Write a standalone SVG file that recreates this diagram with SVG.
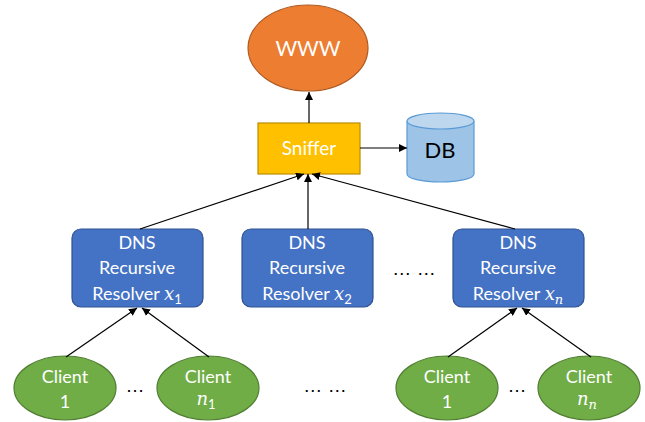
<svg xmlns="http://www.w3.org/2000/svg" width="645" height="422" viewBox="0 0 645 422">
<defs>
<marker id="ah" viewBox="0 0 10 10" refX="10" refY="5" markerWidth="8" markerHeight="8" markerUnits="userSpaceOnUse" orient="auto">
<path d="M0,0 L10,5 L0,10 z" fill="#000"/>
</marker>
</defs>
<style>
text{font-family:Lato,"Open Sans","Liberation Sans",sans-serif;text-anchor:middle}
.w{fill:#fff;font-size:18px}
.m{font-family:"DejaVu Serif","Liberation Serif",serif;font-style:italic}
.s{font-size:13px}
.res{fill:#4472C4;stroke:#2F528F;stroke-width:1.2}
.cli{fill:#70AD47;stroke:#507E32;stroke-width:1.2}
.con line{stroke:#000;stroke-width:1.2;marker-end:url(#ah)}
.dots{fill:#000;font-family:"Liberation Sans",sans-serif;font-size:19px}
</style>
<rect width="645" height="422" fill="#fff"/>
<g id="www">
<ellipse cx="308" cy="48" rx="60" ry="43" fill="#ED7D31" stroke="#AE5A21" stroke-width="1.2"/>
<text x="308" y="56" class="w" style="font-size:21px">WWW</text>
</g>
<g id="sniffer">
<rect x="258" y="123" width="102" height="51" fill="#FFC000" stroke="#BC8C00" stroke-width="1.2"/>
<text x="309" y="155" class="w" style="font-size:19px">Sniffer</text>
</g>
<g id="db">
<path d="M407,121 L407,174 A33.5,8 0 0 0 474,174 L474,121" fill="#9DC3E6" stroke="#5B9BD5" stroke-width="1.2"/>
<ellipse cx="440.5" cy="121" rx="33.5" ry="8" fill="#BDD7EE" stroke="#5B9BD5" stroke-width="1.2"/>
<text x="440" y="158" style="font-size:22px;fill:#000">DB</text>
</g>
<g id="resolver1">
<rect x="72" y="229" width="131" height="78" rx="9" class="res"/>
<text x="137" y="249" class="w">DNS</text>
<text x="137" y="274" class="w">Recursive</text>
<text x="137" y="300" class="w">Resolver <tspan class="m">x</tspan><tspan class="s" dy="4">1</tspan></text>
</g>
<g id="resolver2">
<rect x="242" y="229" width="131" height="78" rx="9" class="res"/>
<text x="307" y="249" class="w">DNS</text>
<text x="307" y="274" class="w">Recursive</text>
<text x="307" y="300" class="w">Resolver <tspan class="m">x</tspan><tspan class="s" dy="4">2</tspan></text>
</g>
<g id="resolvern">
<rect x="453" y="229" width="131" height="78" rx="9" class="res"/>
<text x="518" y="249" class="w">DNS</text>
<text x="518" y="274" class="w">Recursive</text>
<text x="518" y="300" class="w">Resolver <tspan class="m">x</tspan><tspan class="s m" dy="4">n</tspan></text>
</g>
<g id="client1a">
<ellipse cx="65" cy="388" rx="51" ry="32" class="cli"/>
<text x="65" y="383" class="w">Client</text>
<text x="65" y="408" class="w">1</text>
</g>
<g id="client1n">
<ellipse cx="208" cy="388" rx="51" ry="32" class="cli"/>
<text x="208" y="383" class="w">Client</text>
<text x="206" y="405" class="w"><tspan class="m">n</tspan><tspan class="s" dy="4">1</tspan></text>
</g>
<g id="clientna">
<ellipse cx="447" cy="388" rx="51" ry="32" class="cli"/>
<text x="447" y="383" class="w">Client</text>
<text x="447" y="408" class="w">1</text>
</g>
<g id="clientnn">
<ellipse cx="589" cy="388" rx="51" ry="32" class="cli"/>
<text x="589" y="383" class="w">Client</text>
<text x="587" y="405" class="w"><tspan class="m">n</tspan><tspan class="s m" dy="4">n</tspan></text>
</g>
<g id="ellipses">
<text x="135" y="392" class="dots">…</text>
<text x="325" y="392" class="dots">… …</text>
<text x="517" y="392" class="dots">…</text>
<text x="414" y="275" class="dots">… …</text>
</g>
<g class="con" id="connectors">
<line x1="309" y1="123" x2="309" y2="92"/>
<line x1="360" y1="148" x2="407" y2="148"/>
<line x1="140" y1="229" x2="304" y2="174"/>
<line x1="308" y1="229" x2="308" y2="174"/>
<line x1="515" y1="229" x2="312" y2="174"/>
<line x1="66" y1="357" x2="137" y2="308"/>
<line x1="209" y1="357" x2="142" y2="308"/>
<line x1="448" y1="357" x2="517" y2="308"/>
<line x1="591" y1="357" x2="522" y2="308"/>
</g>
</svg>
